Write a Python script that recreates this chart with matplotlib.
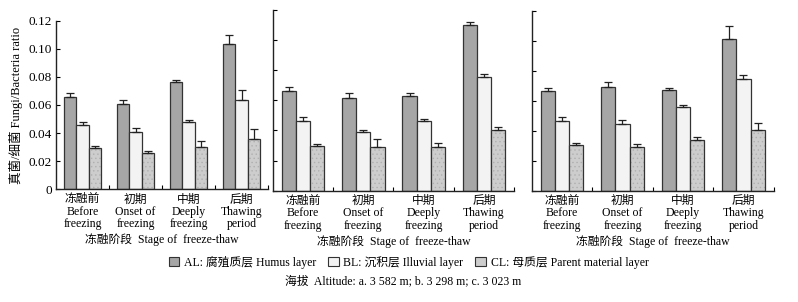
import matplotlib
matplotlib.use('Agg')
import matplotlib.pyplot as plt
from matplotlib.patches import Patch
from matplotlib.ticker import FixedLocator, FixedFormatter, NullFormatter
import numpy as np

plt.rcParams['font.family'] = ['Liberation Serif', 'Noto Sans CJK SC']
plt.rcParams['hatch.linewidth'] = 0.5

# freeze-thaw stages
stages = ['冻融前\nBefore\nfreezing', '初期\nOnset of\nfreezing',
          '中期\nDeeply\nfreezing', '后期\nThawing\nperiod']

# fungi/bacteria ratio, panel a/b/c (mean, error)
al_a = [0.0658, 0.0610, 0.0765, 0.1033]
al_a_err = [0.0024, 0.0024, 0.0015, 0.0067]
bl_a = [0.0456, 0.0410, 0.0480, 0.0639]
bl_a_err = [0.0026, 0.0025, 0.0012, 0.0071]
cl_a = [0.0297, 0.0259, 0.0304, 0.0361]
cl_a_err = [0.0012, 0.0011, 0.0040, 0.0067]

al_b = [0.0662, 0.0618, 0.0627, 0.1100]
al_b_err = [0.0027, 0.0031, 0.0022, 0.0022]
bl_b = [0.0462, 0.0389, 0.0462, 0.0756]
bl_b_err = [0.0029, 0.0013, 0.0016, 0.0017]
cl_b = [0.0300, 0.0293, 0.0293, 0.0400]
cl_b_err = [0.0011, 0.0049, 0.0027, 0.0022]

al_c = [0.0667, 0.0693, 0.0671, 0.1009]
al_c_err = [0.0020, 0.0029, 0.0016, 0.0089]
bl_c = [0.0467, 0.0444, 0.0556, 0.0742]
bl_c_err = [0.0022, 0.0025, 0.0013, 0.0027]
cl_c = [0.0302, 0.0291, 0.0338, 0.0404]
cl_c_err = [0.0014, 0.0020, 0.0022, 0.0045]

yticks = [0, 0.02, 0.04, 0.06, 0.08, 0.10, 0.12]
ytick_labels = ['0', '0.02', '0.04', '0.06', '0.08', '0.10', '0.12']

panels = [
    ([0.0702, 0.3732, 0.2657, 0.5583], (al_a, al_a_err), (bl_a, bl_a_err), (cl_a, cl_a_err)),
    ([0.3417, 0.3685, 0.3028, 0.5983], (al_b, al_b_err), (bl_b, bl_b_err), (cl_b, cl_b_err)),
    ([0.6663, 0.3685, 0.3033, 0.5960], (al_c, al_c_err), (bl_c, bl_c_err), (cl_c, cl_c_err)),
]

edge = '#333333'
col_al = '#a6a6a6'
col_bl = '#f3f3f3'
col_cl = '#cdcdcd'
w = 0.235

fig = plt.figure(figsize=(7.98, 3.02), dpi=100)
x = np.arange(len(stages))

for k, (pos, al, bl, cl) in enumerate(panels):
    ax = fig.add_axes(pos)
    ax.bar(x - w, al[0], w, color=col_al, edgecolor=edge, linewidth=0.9)
    ax.bar(x, bl[0], w, color=col_bl, edgecolor=edge, linewidth=0.9)
    ax.bar(x + w, cl[0], w, color=col_cl, edgecolor='#b0b0b0', linewidth=0, hatch='....')
    ax.bar(x + w, cl[0], w, fill=False, edgecolor=edge, linewidth=0.9)
    for off, (m, e) in zip([-w, 0, w], [al, bl, cl]):
        ax.errorbar(x + off, m, yerr=[np.zeros(len(m)), e], fmt='none',
                    ecolor='#222222', elinewidth=0.9, capsize=3, capthick=0.9)
    ax.set_xlim(-0.5, 3.5)
    ax.set_ylim(0, 0.12)
    for s in ['top', 'right']:
        ax.spines[s].set_visible(False)
    for s in ['left', 'bottom']:
        ax.spines[s].set_linewidth(1.0)
        ax.spines[s].set_color('#222222')
    ax.xaxis.set_major_locator(FixedLocator([0.5, 1.5, 2.5, 3.5]))
    ax.xaxis.set_major_formatter(NullFormatter())
    ax.xaxis.set_minor_locator(FixedLocator(list(x)))
    ax.xaxis.set_minor_formatter(FixedFormatter(stages))
    ax.tick_params(axis='x', which='major', direction='in', length=3, width=0.8)
    ax.tick_params(axis='x', which='minor', length=0, pad=3, labelsize=8.5)
    for lab in ax.get_xticklabels(minor=True):
        lab.set_linespacing(1.05)
    ax.set_yticks(yticks)
    ax.tick_params(axis='y', direction='in', length=3, width=0.8, labelsize=9.5, pad=3)
    if k == 0:
        ax.set_yticklabels(ytick_labels)
        ax.set_ylabel('真菌/细菌 Fungi/Bacteria ratio', fontsize=9, labelpad=4)
    else:
        ax.set_yticklabels([])
    ax.set_xlabel('冻融阶段  Stage of  freeze-thaw', fontsize=8.5, labelpad=2)

handles = [Patch(facecolor=col_al, edgecolor=edge, linewidth=0.8),
           Patch(facecolor=col_bl, edgecolor=edge, linewidth=0.8),
           Patch(facecolor=col_cl, edgecolor=edge, linewidth=0.8)]
labels = ['AL: 腐殖质层 Humus layer', 'BL: 沉积层 Illuvial layer', 'CL: 母质层 Parent material layer']
fig.legend(handles, labels, loc='center', bbox_to_anchor=(0.512, 0.132), ncol=3,
           frameon=False, fontsize=8.5, handlelength=0.9, handleheight=0.9,
           handletextpad=0.4, columnspacing=1.0)
fig.text(0.505, 0.07, '海拔  Altitude: a. 3 582 m; b. 3 298 m; c. 3 023 m',
         ha='center', va='center', fontsize=8.5)

fig.savefig('out.png', dpi=100)
